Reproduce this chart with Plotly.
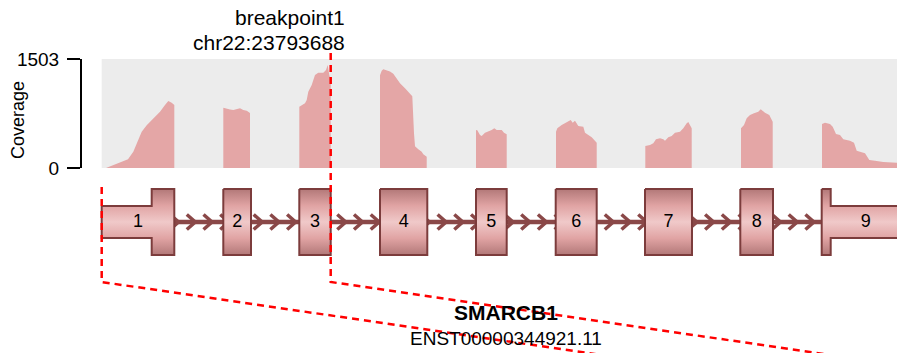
import numpy as np
import plotly.graph_objects as go

# gene / transcript
gene_name = "SMARCB1"
transcript_id = "ENST00000344921.11"
breakpoint_label = "breakpoint1"
breakpoint_coord = "chr22:23793688"
breakpoint_after_exon = 3
max_coverage = 1503

# exons in plot coordinates (introns compressed)
exon_numbers = [1, 2, 3, 4, 5, 6, 7, 8, 9]
exon_starts = [101.7, 223.3, 299.3, 380.0, 476.0, 555.7, 645.0, 740.3, 821.7]
exon_ends = [174.3, 251.0, 330.7, 427.3, 506.7, 596.7, 692.0, 773.0, 910.0]
cds_start = 151.7
cds_end = 830.7

# coverage read per exon
coverage_pos = [
    [106, 113, 120, 128, 133.3, 136.7, 141.7, 146.7, 153.3, 160, 165, 168.3, 171.7, 174.3],
    [223.3, 226.7, 230, 233.3, 236.7, 240, 243.3, 246.7, 250],
    [299.3, 305, 306.7, 308.3, 311.7, 315, 318.3, 323.3, 326, 327.7, 329.3, 330.7],
    [380, 381.7, 383.3, 386.7, 390, 393.3, 396.7, 400, 405, 410, 412.3, 414, 415, 418.3, 421.7, 423.3, 426.7],
    [476, 477.3, 480, 481.7, 485, 488.3, 491.7, 494.3, 496.7, 501.7, 504, 506.7],
    [556, 557.3, 561.7, 565, 568.3, 570.7, 572.7, 575, 578.3, 583.3, 585, 588.3, 591.7, 596.7],
    [645.3, 650, 653.3, 656, 660, 663.3, 665, 668.3, 671.7, 675, 680, 683.3, 686.7, 688.3, 691.7],
    [741, 744, 746.7, 750, 754, 758.3, 760.7, 765, 769.3, 772.7],
    [822, 825, 830, 832.7, 836, 840, 843.3, 850, 854, 856.7, 865, 869.3, 875, 883.3, 896.7, 905, 910],
]
coverage_val = [
    [0, 40, 75, 120, 225, 340, 500, 590, 685, 775, 870, 925, 900, 870],
    [830, 815, 805, 800, 810, 825, 800, 790, 760],
    [845, 892, 938, 1052, 1145, 1282, 1314, 1314, 1351, 1420, 1282, 1213],
    [1280, 1340, 1361, 1345, 1330, 1300, 1230, 1170, 1100, 1030, 990, 480, 300, 260, 225, 190, 155],
    [524, 520, 455, 441, 487, 501, 524, 547, 524, 524, 487, 465],
    [501, 547, 593, 616, 639, 662, 625, 652, 579, 570, 487, 455, 423, 349],
    [303, 317, 340, 396, 409, 396, 377, 423, 441, 487, 501, 547, 616, 634, 547],
    [547, 593, 685, 731, 754, 777, 809, 763, 731, 639],
    [607, 625, 607, 570, 469, 455, 395, 377, 349, 239, 202, 110, 101, 83, 74, 41, 35],
]

W, H = 905, 353
OFF = 8             # page body margin in the browser
FW, FH = W - OFF, H - OFF
FONT = "Liberation Sans, Arial, sans-serif"
tx_y = 222          # transcript centre line (pixel rows, y2 axis)
cds_half = 33
utr_half = 16
arrow_step = 16.72
line_col = "#8a4848"
edge_col = "#7c3c3c"
cov_col = "#e4a6a6"
exon_scale = [[0, "#b27878"], [0.25, "#e0a3a3"], [0.5, "#f0c9c9"], [0.75, "#e0a3a3"], [1, "#b27878"]]


def px(x):
    return (x - OFF) / FW


def py(y):
    return 1 - (y - OFF) / FH


tx_start, tx_end = exon_starts[0], exon_ends[-1]
bp_x = exon_ends[breakpoint_after_exon - 1]

fig = go.Figure()

# coverage
for xs, ys in zip(coverage_pos, coverage_val):
    fig.add_trace(go.Scatter(x=xs, y=ys, mode="lines", fill="tozeroy", fillcolor=cov_col,
                             line=dict(width=0, color=cov_col), xaxis="x", yaxis="y",
                             hoverinfo="skip", showlegend=False))

# strand line and arrows
fig.add_trace(go.Scatter(x=[tx_start, tx_end], y=[tx_y, tx_y], mode="lines",
                         line=dict(color=line_col, width=4.5), xaxis="x", yaxis="y2",
                         hoverinfo="skip", showlegend=False))
ax, ay = [], []
for t in np.arange(tx_start + 10, tx_end, arrow_step):
    ax += [t - 8.5, t, t - 8.5, None]
    ay += [tx_y - 7.5, tx_y, tx_y + 7.5, None]
fig.add_trace(go.Scatter(x=ax, y=ay, mode="lines", line=dict(color=line_col, width=3.5),
                         xaxis="x", yaxis="y2", hoverinfo="skip", showlegend=False))


def exon_outline(s, e):
    segs = []
    if s < cds_start:
        segs.append((s, min(e, cds_start), utr_half))
    if e > cds_start and s < cds_end:
        segs.append((max(s, cds_start), min(e, cds_end), cds_half))
    if e > cds_end:
        segs.append((max(s, cds_end), e, utr_half))
    xs, ys = [], []
    for x0, x1, h in segs:
        xs += [x0, x1]
        ys += [tx_y - h, tx_y - h]
    for x0, x1, h in reversed(segs):
        xs += [x1, x0]
        ys += [tx_y + h, tx_y + h]
    return xs + [xs[0]], ys + [ys[0]]


for s, e in zip(exon_starts, exon_ends):
    xs, ys = exon_outline(s, e)
    fig.add_trace(go.Scatter(x=xs, y=ys, mode="lines", fill="toself",
                             fillgradient=dict(type="vertical", colorscale=exon_scale),
                             line=dict(color=edge_col, width=2), xaxis="x", yaxis="y2",
                             hoverinfo="skip", showlegend=False))

centers = [(s + e) / 2 for s, e in zip(exon_starts, exon_ends)]
fig.add_trace(go.Scatter(x=centers, y=[tx_y] * len(centers), mode="text",
                         text=[str(n) for n in exon_numbers],
                         textfont=dict(family=FONT, size=18, color="black"),
                         xaxis="x", yaxis="y2", hoverinfo="skip", showlegend=False))

# coverage background
fig.add_shape(type="rect", xref="x", yref="y", x0=tx_start, x1=tx_end, y0=0, y1=max_coverage,
              fillcolor="#ececec", line=dict(width=0), layer="below")

# breakpoint / fusion connector lines
bend_y, far_y, slope = 282, 420, 0.1461
dash = dict(color="#ff0000", width=2.5, dash="7px,5px")
for x_top, y_top in [(bp_x, 53), (tx_start, 187)]:
    x_far = x_top + (far_y - bend_y) / slope
    fig.add_shape(type="path", xref="x", yref="y2", layer="above", line=dash,
                  path=f"M {x_top},{y_top} L {x_top},{bend_y} L {x_far},{far_y}")

ann = dict(showarrow=False, font=dict(family=FONT, size=21, color="black"))
fig.add_annotation(x=bp_x + 16, y=17.5, xref="x", yref="y2", xanchor="right", yanchor="middle",
                   text=breakpoint_label, **ann)
fig.add_annotation(x=bp_x + 16, y=42, xref="x", yref="y2", xanchor="right", yanchor="middle",
                   text=breakpoint_coord, **ann)
mid = (tx_start + tx_end) / 2
fig.add_annotation(x=mid, y=312, xref="x", yref="y2", yanchor="middle",
                   text=f"<b>{gene_name}</b>", **ann)
fig.add_annotation(x=mid, y=338, xref="x", yref="y2", yanchor="middle", text=transcript_id,
                   showarrow=False, font=dict(family=FONT, size=19, color="black"))
fig.add_annotation(x=px(18), y=py(120), xref="paper", yref="paper", text="Coverage",
                   xanchor="center", yanchor="middle", textangle=-90, showarrow=False,
                   font=dict(family=FONT, size=18, color="black"))

fig.update_layout(
    width=FW, height=FH, margin=dict(l=0, r=0, t=0, b=0),
    paper_bgcolor="white", plot_bgcolor="rgba(0,0,0,0)", showlegend=False,
    xaxis=dict(range=[OFF, W], domain=[0, 1], visible=False, anchor="y2"),
    yaxis=dict(range=[0, max_coverage], domain=[py(168), py(59)], anchor="free",
               position=px(81), tickvals=[0, max_coverage], ticktext=["0", str(max_coverage)],
               ticks="outside", ticklen=13, tickwidth=2, tickcolor="black",
               showline=True, linewidth=2, linecolor="black", showgrid=False, zeroline=False,
               tickfont=dict(family=FONT, size=19, color="black"), ticklabelstandoff=4,
               automargin=False),
    yaxis2=dict(range=[H, OFF], domain=[0, 1], visible=False, anchor="x"),
)

fig.write_html("out.html")
